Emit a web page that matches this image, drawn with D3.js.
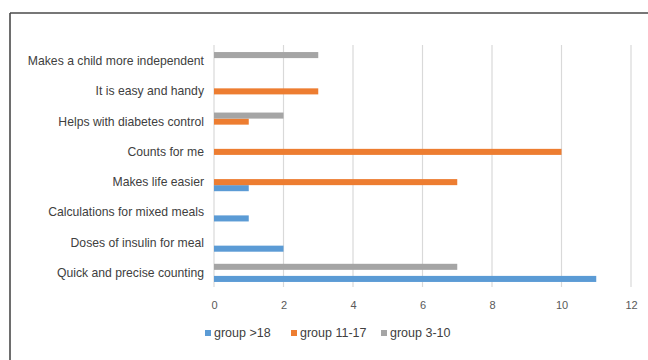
<!DOCTYPE html>
<html>
<head>
<meta charset="utf-8">
<script src="https://cdn.jsdelivr.net/npm/d3@7"></script>
<style>
  html, body { margin: 0; padding: 0; background: #fff; }
  svg { display: block; font-family: "Liberation Sans", Arial, Helvetica, sans-serif; }
</style>
</head>
<body>
<svg id="chart" width="648" height="360"></svg>
<script>
// Reasons given for using the app, counted per age group
const categories = [
  "Makes a child more independent",
  "It is easy and handy",
  "Helps with diabetes control",
  "Counts for me",
  "Makes life easier",
  "Calculations for mixed meals",
  "Doses of insulin for meal",
  "Quick and precise counting"
];
const seriesNames = ["group >18", "group 11-17", "group 3-10"];
const groupAdult = [0, 0, 0, 0, 1, 1, 2, 11];
const groupTeen  = [0, 3, 1, 10, 7, 0, 0, 0];
const groupChild = [3, 0, 2, 0, 0, 0, 0, 7];
const xTicks = [0, 2, 4, 6, 8, 10, 12];
const colors = ["#5B9BD5", "#ED7D31", "#A5A5A5"];

const seriesValues = [groupAdult, groupTeen, groupChild];

const svg = d3.select("#chart");

// outer frame (top and left edges)
svg.append("line").attr("x1", 10).attr("y1", 13).attr("x2", 648).attr("y2", 13)
  .attr("stroke", "#4a4a4a").attr("stroke-width", 1.6);
svg.append("line").attr("x1", 10).attr("y1", 13).attr("x2", 10).attr("y2", 360)
  .attr("stroke", "#4a4a4a").attr("stroke-width", 1.6);

const x = d3.scaleLinear().domain([0, 12]).range([214, 631]);
const y = d3.scaleBand().domain(categories).range([46, 288]).paddingInner(0.4).paddingOuter(0.2);
// order within a band: grey on top, orange middle, blue bottom
const sub = d3.scaleBand().domain([2, 1, 0]).range([0, y.bandwidth()]);

// vertical grid lines
svg.append("g").selectAll("line").data(xTicks).join("line")
  .attr("x1", d => x(d)).attr("x2", d => x(d))
  .attr("y1", 45).attr("y2", 287)
  .attr("stroke", "#D9D9D9").attr("stroke-width", 1.2);

// x axis tick labels
const xAxis = d3.axisBottom(x).tickValues(xTicks).tickSize(0).tickPadding(0);
const gx = svg.append("g").attr("transform", "translate(0,301)").call(xAxis);
gx.select(".domain").remove();
gx.selectAll("text").attr("fill", "#595959").attr("font-size", 11)
  .attr("font-family", "'Liberation Sans', Arial, sans-serif");

// category labels
const yAxis = d3.axisLeft(y).tickSize(0).tickPadding(0);
const gy = svg.append("g").attr("transform", "translate(204,0)").call(yAxis);
gy.select(".domain").remove();
gy.selectAll("text").attr("fill", "#404040").attr("font-size", 12.2)
  .attr("font-family", "'Liberation Sans', Arial, sans-serif");

// bars
seriesValues.forEach((vals, si) => {
  svg.append("g").selectAll("rect").data(vals.map((v, i) => ({ v, c: categories[i] })))
    .join("rect")
    .filter(d => d.v > 0)
    .attr("x", x(0))
    .attr("y", d => y(d.c) + sub(si))
    .attr("width", d => x(d.v) - x(0))
    .attr("height", sub.bandwidth())
    .attr("fill", colors[si]);
});

// legend
const legendX = [205, 291, 381];
const lg = svg.append("g");
seriesNames.forEach((name, i) => {
  lg.append("rect").attr("x", legendX[i]).attr("y", 330).attr("width", 6).attr("height", 6)
    .attr("fill", colors[i]);
  lg.append("text").attr("x", legendX[i] + 9).attr("y", 333).attr("dy", "0.35em")
    .attr("font-size", 12.5).attr("fill", "#404040").text(name);
});
</script>
</body>
</html>
